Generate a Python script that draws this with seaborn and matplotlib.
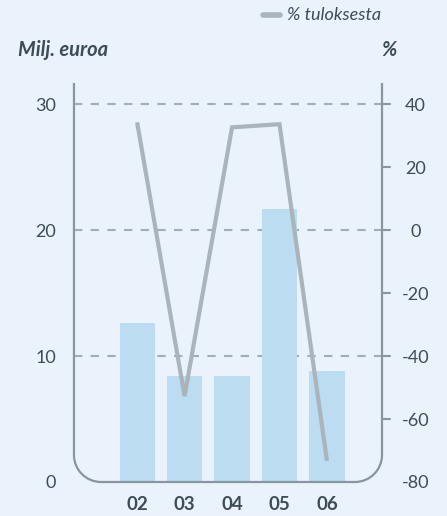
import numpy as np
import pandas as pd
import matplotlib
matplotlib.use('Agg')
import matplotlib.pyplot as plt
import seaborn as sns
from matplotlib.path import Path
from matplotlib.patches import PathPatch
from matplotlib.lines import Line2D

# data ------------------------------------------------------------
years = ['02', '03', '04', '05', '06']
milj_euroa = [12.6, 8.4, 8.4, 21.7, 8.8]
pct_tuloksesta = [34.3, -52.7, 32.7, 33.7, -73.3]

# styles ----------------------------------------------------------
bg = '#EAF3FB'
bar_color = '#BBDCF1'
line_color = '#A9B4BB'
spine_color = '#8A959D'
grid_color = '#A3ADB5'
text_color = '#3E4C57'

sns.set_style('white')
plt.rcParams['font.family'] = ['Lato', 'DejaVu Sans']
plt.rcParams['text.color'] = text_color
plt.rcParams['axes.unicode_minus'] = False

fig = plt.figure(figsize=(4.47, 5.16), dpi=100, facecolor=bg)
ax = fig.add_axes([0.1655, 0.0659, 0.6891, 0.7733])
ax.set_facecolor(bg)

df = pd.DataFrame({'year': years, 'value': milj_euroa})
sns.barplot(data=df, x='year', y='value', ax=ax, color=bar_color,
            saturation=1, width=0.74, linewidth=0, zorder=3)

ax.set_xlim(-1.33, 5.16)
ax.set_ylim(0, 31.7)
ax.set_yticks([0, 10, 20, 30])
ax.set_xlabel('')
ax.set_ylabel('')
ax.tick_params(axis='y', length=0, pad=13, labelsize=13, labelcolor=text_color)
ax.tick_params(axis='x', length=0, pad=10, labelsize=13.5, labelcolor=text_color)
for lab in ax.get_xticklabels():
    lab.set_fontweight('bold')

# dashed grid at 10/20/30 behind bars
for v in [10, 20, 30]:
    ax.axhline(v, color=grid_color, lw=1.5, ls=(0, (4, 4)), zorder=1)

for s in ax.spines.values():
    s.set_visible(False)

# twin axis for percentage line
ax2 = ax.twinx()
sns.lineplot(x=np.arange(len(years)), y=pct_tuloksesta, ax=ax2,
             color=line_color, lw=3, zorder=5)
ax2.lines[0].set_solid_joinstyle('miter')
ax2.lines[0].set_solid_capstyle('butt')
ax2.set_ylim(-80, 46.8)
ax2.set_yticks([-80, -60, -40, -20, 0, 20, 40])
ax2.tick_params(axis='y', length=0, pad=24, labelsize=13, labelcolor=text_color)
for lab in ax2.get_yticklabels():
    lab.set_horizontalalignment('center')
for s in ax2.spines.values():
    s.set_visible(False)

# right axis tick marks (except bottom)
for v in [-60, -40, -20, 0, 20, 40]:
    ax2.plot([1.0, 1.027], [v, v], transform=ax2.get_yaxis_transform(),
             color=spine_color, lw=1.5, clip_on=False, zorder=6)

# rounded-bottom frame
W = ax.get_position().width * 447
H = ax.get_position().height * 516
r = 27
rx, ry = r / W, r / H
k = 0.5523
verts = [(0, 1), (0, ry),
         (0, ry * (1 - k)), (rx * (1 - k), 0), (rx, 0),
         (1 - rx, 0),
         (1 - rx * (1 - k), 0), (1, ry * (1 - k)), (1, ry),
         (1, 1)]
codes = [Path.MOVETO, Path.LINETO,
         Path.CURVE4, Path.CURVE4, Path.CURVE4,
         Path.LINETO,
         Path.CURVE4, Path.CURVE4, Path.CURVE4,
         Path.LINETO]
frame = PathPatch(Path(verts, codes), transform=ax2.transAxes, fill=False,
                  edgecolor=spine_color, lw=1.6, clip_on=False, zorder=7)
ax2.add_patch(frame)

# titles and legend
fig.text(18 / 447, 1 - 50 / 516, 'Milj. euroa', fontsize=14.5, fontweight='bold',
         fontstyle='italic', va='center', ha='left')
fig.text(389 / 447, 1 - 50 / 516, '%', fontsize=14.5, fontweight='bold',
         fontstyle='italic', va='center', ha='center')
fig.lines.append(Line2D([263 / 447, 280 / 447], [1 - 15 / 516, 1 - 15 / 516],
                        transform=fig.transFigure, color=line_color, lw=4))
fig.text(287 / 447, 1 - 15 / 516, '% tuloksesta', fontsize=13,
         fontstyle='italic', va='center', ha='left')

fig.savefig('out.png', dpi=100, facecolor=bg)
